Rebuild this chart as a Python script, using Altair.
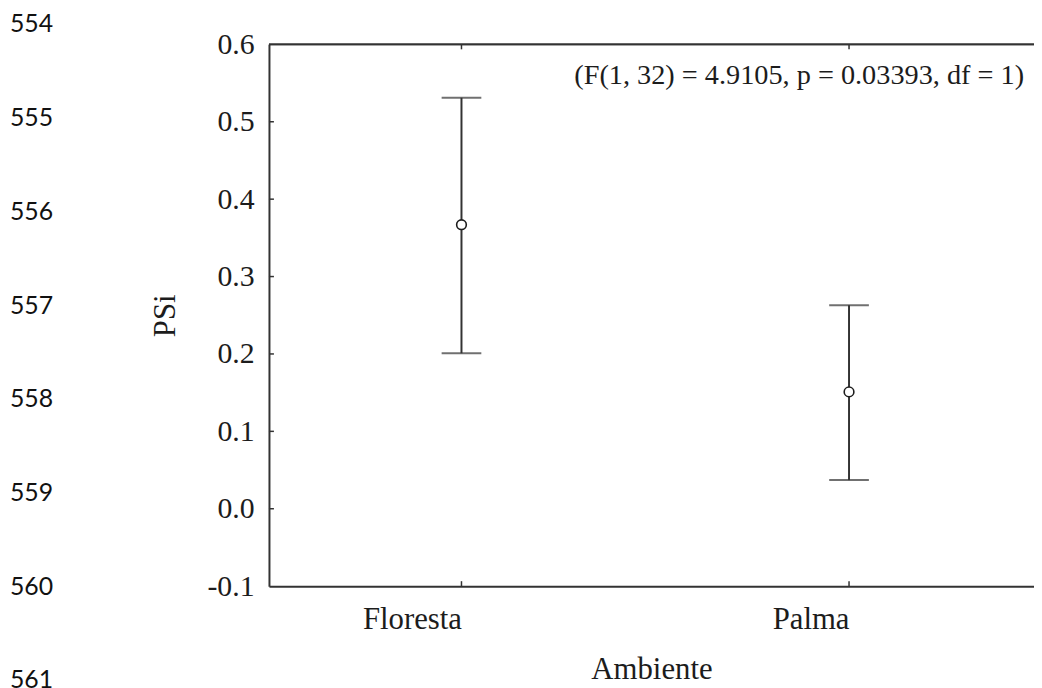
import altair as alt
import pandas as pd

# ---- data ----
ambientes = ["Floresta", "Palma"]
means = [0.367, 0.151]
lower = [0.201, 0.037]
upper = [0.531, 0.263]

y_ticks = [-0.1, 0.0, 0.1, 0.2, 0.3, 0.4, 0.5, 0.6]
inner_y_ticks = [0.0, 0.1, 0.2, 0.3, 0.4, 0.5]
line_numbers = [554, 555, 556, 557, 558, 559, 560, 561]
annotation = "(F(1, 32) = 4.9105, p = 0.03393, df = 1)"

W, H = 771, 546
INK = "#1c1c1c"
LINE = "#333333"
SERIF = "Liberation Serif"

df = pd.DataFrame({"amb": ambientes, "mean": means, "lo": lower, "hi": upper})
tick_df = pd.DataFrame({"v": inner_y_ticks})
ln_df = pd.DataFrame({"n": line_numbers})

xenc = alt.X(
    "amb:N",
    sort=ambientes,
    scale=alt.Scale(type="point", padding=0.487, align=0.51),
    axis=alt.Axis(
        title="Ambiente",
        labelAngle=0,
        labelFont=SERIF,
        labelFontSize=31,
        labelColor=INK,
        labelPadding=34,
        titleFont=SERIF,
        titleFontSize=31,
        titleFontWeight="normal",
        titleColor=INK,
        titlePadding=20,
        tickSize=0,
        domainColor=LINE,
        domainWidth=2,
    ),
)

yscale = alt.Scale(domain=[-0.1, 0.6], nice=False, zero=False)
yaxis = alt.Axis(
    title="PSi",
    values=y_ticks,
    labelExpr="datum.value < 0 ? '-' + format(-datum.value, '.1f') : format(datum.value, '.1f')",
    labelFont=SERIF,
    labelFontSize=30,
    labelColor=INK,
    labelPadding=15,
    titleFont=SERIF,
    titleFontSize=31,
    titleFontWeight="normal",
    titleColor=INK,
    titlePadding=26,
    tickSize=0,
    domainColor=LINE,
    domainWidth=2,
    grid=False,
)

base = alt.Chart(df)

whisk = base.mark_rule(color=LINE, strokeWidth=2).encode(
    x=xenc,
    y=alt.Y("lo:Q", scale=yscale, axis=yaxis),
    y2="hi:Q",
)
cap_lo = base.mark_tick(color=LINE, thickness=2, size=40).encode(
    x=alt.X("amb:N", sort=ambientes), y=alt.Y("lo:Q")
)
cap_hi = base.mark_tick(color=LINE, thickness=2, size=40).encode(
    x=alt.X("amb:N", sort=ambientes), y=alt.Y("hi:Q")
)
pts = base.mark_circle(
    fill="white", stroke=INK, strokeWidth=1.6, size=95, opacity=1
).encode(x=alt.X("amb:N", sort=ambientes), y=alt.Y("mean:Q"))

# inward ticks and top frame
ytk = alt.Chart(tick_df).mark_rule(color=LINE, strokeWidth=1.5).encode(
    y=alt.Y("v:Q"), x=alt.value(0), x2=alt.value(5)
)
xtk_bottom = base.mark_rule(color=LINE, strokeWidth=1.5).encode(
    x=alt.X("amb:N", sort=ambientes), y=alt.value(H), y2=alt.value(H - 5)
)
xtk_top = base.mark_rule(color=LINE, strokeWidth=1.5).encode(
    x=alt.X("amb:N", sort=ambientes), y=alt.value(0), y2=alt.value(5)
)
top_frame = alt.Chart(df).mark_rule(color=LINE, strokeWidth=2).encode(
    y=alt.Y(datum=0.6), x=alt.value(0), x2=alt.value(W)
)

note = alt.Chart(df).transform_filter(alt.datum.amb == "Palma").mark_text(
    text=annotation, align="right", baseline="alphabetic",
    font=SERIF, fontSize=28.5, color=INK
).encode(x=alt.value(761), y=alt.value(40))

main = alt.layer(ytk, xtk_bottom, xtk_top, top_frame, whisk, cap_lo, cap_hi, pts, note)

lines = alt.Chart(ln_df).mark_text(
    align="left", baseline="middle", font="Lato", fontSize=25, color="#111111"
).encode(
    x=alt.value(-261),
    y=alt.Y("n:Q", scale=alt.Scale(domain=[554, 561], range=[-20, 641]), axis=None),
    text="n:N",
)

chart = (
    alt.layer(main, lines)
    .resolve_scale(y="independent")
    .properties(
        width=W,
        height=H,
        autosize=alt.AutoSizeParams(type="none"),
        padding={"left": 263, "top": 34, "right": 0, "bottom": 100},
        background="white",
    )
    .configure_view(stroke=None)
)

chart.save("out.html", embed_options={"renderer": "svg", "actions": False})
